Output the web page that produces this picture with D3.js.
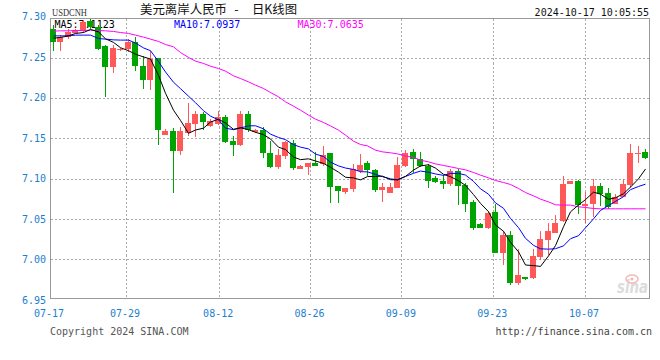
<!DOCTYPE html>
<html><head><meta charset="utf-8">
<script src="https://cdn.jsdelivr.net/npm/d3@7"></script>
<style>html,body{margin:0;padding:0;background:#fff;}svg{display:block;}</style>
</head><body>
<script>
// ---- data ----
const opens = [7.2875,7.2708,7.2771,7.2825,7.2842,7.2967,7.2896,7.2654,7.2396,7.2604,
7.2617,7.2708,7.2408,7.2229,7.2508,7.1542,7.1592,7.1342,7.1563,7.1683,
7.1804,7.1658,7.1683,7.1767,7.1467,7.1417,7.1804,7.1583,7.1604,7.1321,
7.1146,7.1283,7.1442,7.1125,7.1146,7.1196,7.1179,7.1313,7.0904,7.0833,
7.0867,7.1100,7.1196,7.1104,7.0854,7.0821,7.0883,7.1154,7.1329,7.1250,
7.1158,7.1008,7.0971,7.0929,7.1096,7.0917,7.0704,7.0429,7.0383,7.0583,
7.0071,7.0292,6.9688,6.9763,6.9758,7.0021,7.0229,7.0321,7.0471,7.0933,
7.0971,7.0658,7.0679,7.0904,7.0813,7.0679,7.0771,7.0917,7.1313,7.1333];
const highs = [7.2925,7.2792,7.2875,7.2875,7.2979,7.3000,7.2925,7.2667,7.2675,7.2633,
7.2742,7.2771,7.2533,7.2592,7.2508,7.1617,7.1633,7.1646,7.1938,7.1842,
7.1833,7.1738,7.1850,7.1792,7.1529,7.1842,7.1842,7.1625,7.1642,7.1467,
7.1375,7.1471,7.1479,7.1167,7.1196,7.1333,7.1404,7.1325,7.0904,7.0879,
7.1179,7.1304,7.1221,7.1117,7.0946,7.0946,7.1263,7.1354,7.1367,7.1333,
7.1179,7.1029,7.1042,7.1117,7.1125,7.0938,7.0729,7.0450,7.0592,7.0679,
7.0342,7.0342,7.0125,6.9763,7.0125,7.0342,7.0438,7.0542,7.1029,7.0971,
7.0979,7.0833,7.0988,7.0946,7.0883,7.0804,7.1000,7.1429,7.1404,7.1375];
const lows = [7.2592,7.2592,7.2742,7.2813,7.2825,7.2867,7.2604,7.2021,7.2325,7.2592,
7.2583,7.2342,7.2117,7.2104,7.1417,7.1542,7.0813,7.1292,7.1529,7.1521,
7.1604,7.1646,7.1667,7.1438,7.1283,7.1404,7.1583,7.1571,7.1258,7.1133,
7.1113,7.1238,7.1104,7.1113,7.1050,7.1158,7.1158,7.0700,7.0688,7.0804,
7.0833,7.1063,7.1033,7.0833,7.0708,7.0821,7.0883,7.1146,7.1063,7.1146,
7.0883,7.0946,7.0863,7.0904,7.0675,7.0583,7.0354,7.0383,7.0375,7.0071,
6.9925,6.9675,6.9675,6.9729,6.9750,6.9979,7.0042,7.0321,7.0458,7.0933,
7.0554,7.0450,7.0513,7.0658,7.0625,7.0679,7.0763,7.0883,7.1196,7.1242];
const closes = [7.2708,7.2771,7.2833,7.2854,7.2958,7.2896,7.2625,7.2396,7.2633,7.2625,
7.2708,7.2404,7.2229,7.2500,7.1604,7.1592,7.1342,7.1592,7.1696,7.1808,
7.1708,7.1725,7.1767,7.1458,7.1417,7.1804,7.1604,7.1604,7.1313,7.1146,
7.1292,7.1454,7.1133,7.1154,7.1196,7.1158,7.1300,7.0896,7.0846,7.0879,
7.1117,7.1175,7.1104,7.0854,7.0896,7.0896,7.1167,7.1321,7.1242,7.1158,
7.0971,7.0958,7.0933,7.1092,7.0904,7.0683,7.0383,7.0383,7.0575,7.0071,
7.0292,6.9688,6.9792,6.9750,7.0033,7.0242,7.0342,7.0438,7.0929,7.0967,
7.0667,7.0679,7.0904,7.0804,7.0646,7.0763,7.0929,7.1321,7.1321,7.1258];
// moving-average values at the left edge (need closes before the window)
const ma5Head  = [7.2754,7.2763,7.2783,7.2813];
const ma10Head = [7.2783,7.2783,7.2783,7.2792,7.2792,7.2792,7.2750,7.2742,7.2733];
// MA30
const ma30 = [7.2842,7.2846,7.2846,7.2850,7.2850,7.2854,7.2850,7.2846,7.2838,7.2825,
7.2813,7.2792,7.2767,7.2742,7.2713,7.2675,7.2646,7.2575,7.2513,7.2467,
7.2438,7.2404,7.2375,7.2342,7.2283,7.2250,7.2208,7.2167,7.2125,7.2075,
7.2021,7.1958,7.1904,7.1854,7.1792,7.1742,7.1700,7.1658,7.1604,7.1542,
7.1467,7.1425,7.1408,7.1354,7.1333,7.1321,7.1308,7.1283,7.1263,7.1229,
7.1208,7.1183,7.1163,7.1146,7.1125,7.1108,7.1075,7.1042,7.1008,7.0975,
7.0950,7.0925,7.0875,7.0825,7.0783,7.0742,7.0708,7.0671,7.0667,7.0667,
7.0646,7.0638,7.0625,7.0621,7.0621,7.0621,7.0621,7.0621,7.0621,7.0621];
const yTicks = [7.30,7.25,7.20,7.15,7.10,7.05,7.00,6.95];
const xTickLabels = ["07-17","07-29","08-12","08-26","09-09","09-23","10-07"];
const xTickAt = [-0.47,9.68,22.09,34.27,46.45,58.64,70.88]; // candle-index position of each label
const maNames = ["MA5","MA10","MA30"];
const maLast = ["7.1123","7.0937","7.0635"];
const symbol = "USDCNH";
const titleA = "美元离岸人民币", titleDash = "-", titleB = "日K线图";
const stamp = "2024-10-17 10:05:55";
const copyright = "Copyright 2024 SINA.COM";
const site = "http://finance.sina.com.cn";

// ---- derived moving averages ----
function ma(n, head){
  return closes.map((c,i)=> i < n-1 ? head[i] : d3.mean(closes.slice(i-n+1, i+1)));
}
const ma5 = ma(5, ma5Head), ma10 = ma(10, ma10Head);

// ---- drawing ----
const W=660,H=360, L=50.5, R=649.5, T=18.5, B=298.5;
const mono = "'DejaVu Sans Mono', 'Liberation Mono', monospace";
const svg = d3.select("body").append("svg").attr("width",W).attr("height",H);
svg.append("rect").attr("width",W).attr("height",H).attr("fill","#fff");

const x = d3.scaleLinear().domain([0, closes.length-1]).range([53, 645.5]);
const y = d3.scaleLinear().domain([6.95, 7.30]).range([B, T]);
const yLab = d3.scaleLinear().domain([7.30, 6.95]).range([20, 304]);
const px = i => Math.floor(x(i));

// watermark
const wm = svg.append("g");
wm.append("text").attr("x",617).attr("y",293).attr("font-family","'DejaVu Sans', sans-serif")
  .attr("font-size",17).attr("font-weight","bold").attr("font-style","italic")
  .attr("fill","#dcdcdc").attr("textLength",31).attr("lengthAdjust","spacingAndGlyphs").text("sina");
wm.append("ellipse").attr("cx",632).attr("cy",279).attr("rx",6).attr("ry",4)
  .attr("fill","none").attr("stroke","#f2b9b9").attr("stroke-width",1.5);
wm.append("circle").attr("cx",632).attr("cy",279).attr("r",1.6).attr("fill","#f2b9b9");

// grid
const grid = svg.append("g").attr("stroke","#aaa").attr("stroke-dasharray","2,2").attr("shape-rendering","crispEdges");
grid.selectAll("line.h").data(yTicks.filter(v=>v<7.30 && v>6.95)).join("line")
  .attr("x1",L).attr("x2",R).attr("y1",d=>Math.round(y(d))+0.5).attr("y2",d=>Math.round(y(d))+0.5);
grid.selectAll("line.v").data(xTickAt.filter(v=>v>0)).join("line")
  .attr("y1",T).attr("y2",B).attr("x1",d=>Math.round(x(d))+0.5).attr("x2",d=>Math.round(x(d))+0.5);

// border
svg.append("rect").attr("x",L).attr("y",T).attr("width",R-L).attr("height",B-T)
  .attr("fill","none").attr("stroke","#999").attr("shape-rendering","crispEdges");

// y labels
svg.append("g").selectAll("text").data(yTicks).join("text")
  .attr("x",46).attr("y",d=>yLab(d)).attr("text-anchor","end")
  .attr("font-family",mono).attr("font-size",10).attr("fill","#1b80d0")
  .text(d=>d.toFixed(2));

// x labels
svg.append("g").selectAll("text").data(xTickLabels).join("text")
  .attr("x",(d,i)=>x(xTickAt[i])-0.5).attr("y",317).attr("text-anchor","middle")
  .attr("font-family",mono).attr("font-size",10).attr("fill","#1b80d0")
  .text(d=>d);

// header texts
svg.append("text").attr("x",52).attr("y",15.5).attr("font-family","'Liberation Serif', 'DejaVu Serif', serif")
  .attr("font-size",11).attr("fill","#333").attr("textLength",35).attr("lengthAdjust","spacingAndGlyphs").text(symbol);
const cjk = "'Noto Sans CJK SC', sans-serif";
svg.append("text").attr("x",140).attr("y",13.5).attr("font-family",cjk).attr("font-size",12.5)
  .attr("fill","#111").attr("textLength",87).attr("lengthAdjust","spacingAndGlyphs").text(titleA);
svg.append("text").attr("x",236.5).attr("y",13.5).attr("text-anchor","middle").attr("font-family",cjk).attr("font-size",12.5)
  .attr("fill","#111").text(titleDash);
svg.append("text").attr("x",252).attr("y",13.5).attr("font-family",cjk).attr("font-size",12.5)
  .attr("fill","#111").attr("textLength",45).attr("lengthAdjust","spacingAndGlyphs").text(titleB);
svg.append("text").attr("x",649).attr("y",15.5).attr("text-anchor","end").attr("font-family",mono)
  .attr("font-size",10).attr("fill","#111").text(stamp);

// MA legend
const maColors = ["#000","#0000ff","#ff00ff"];
const legX = [54.5,174,297.5];
svg.append("g").selectAll("text").data(maNames).join("text")
  .attr("x",(d,i)=>legX[i]).attr("y",27.5).attr("font-family",mono).attr("font-size",10)
  .attr("fill",(d,i)=>maColors[i]).text((d,i)=>d+":"+maLast[i]);

// candles
const up = "#ff5858", down = "#00a400";
const cg = svg.append("g").attr("shape-rendering","crispEdges");
const idx = d3.range(closes.length);
cg.selectAll("line").data(idx).join("line")
  .attr("x1",i=>px(i)+0.5).attr("x2",i=>px(i)+0.5)
  .attr("y1",i=>y(highs[i])).attr("y2",i=>y(lows[i]))
  .attr("stroke",i=>closes[i]>=opens[i]?up:down);
cg.selectAll("rect").data(idx).join("rect")
  .attr("x",i=>px(i)-3).attr("width",6)
  .attr("y",i=>y(Math.max(opens[i],closes[i])))
  .attr("height",i=>Math.max(1, y(Math.min(opens[i],closes[i]))-y(Math.max(opens[i],closes[i]))))
  .attr("fill",i=>closes[i]>=opens[i]?up:down);

// MA lines
const line = d3.line().x((d,i)=>px(i)+0.5).y(d=>y(d));
[ma30, ma10, ma5].forEach((s,k)=>{
  svg.append("path").attr("d",line(s)).attr("fill","none")
    .attr("stroke",[maColors[2],maColors[1],maColors[0]][k]).attr("stroke-width",1);
});

// footer
svg.append("text").attr("x",50).attr("y",335).attr("font-family",mono).attr("font-size",10)
  .attr("fill","#555").text(copyright);
svg.append("text").attr("x",652).attr("y",335).attr("text-anchor","end").attr("font-family",mono).attr("font-size",10)
  .attr("fill","#444").text(site);
</script>
</body></html>
